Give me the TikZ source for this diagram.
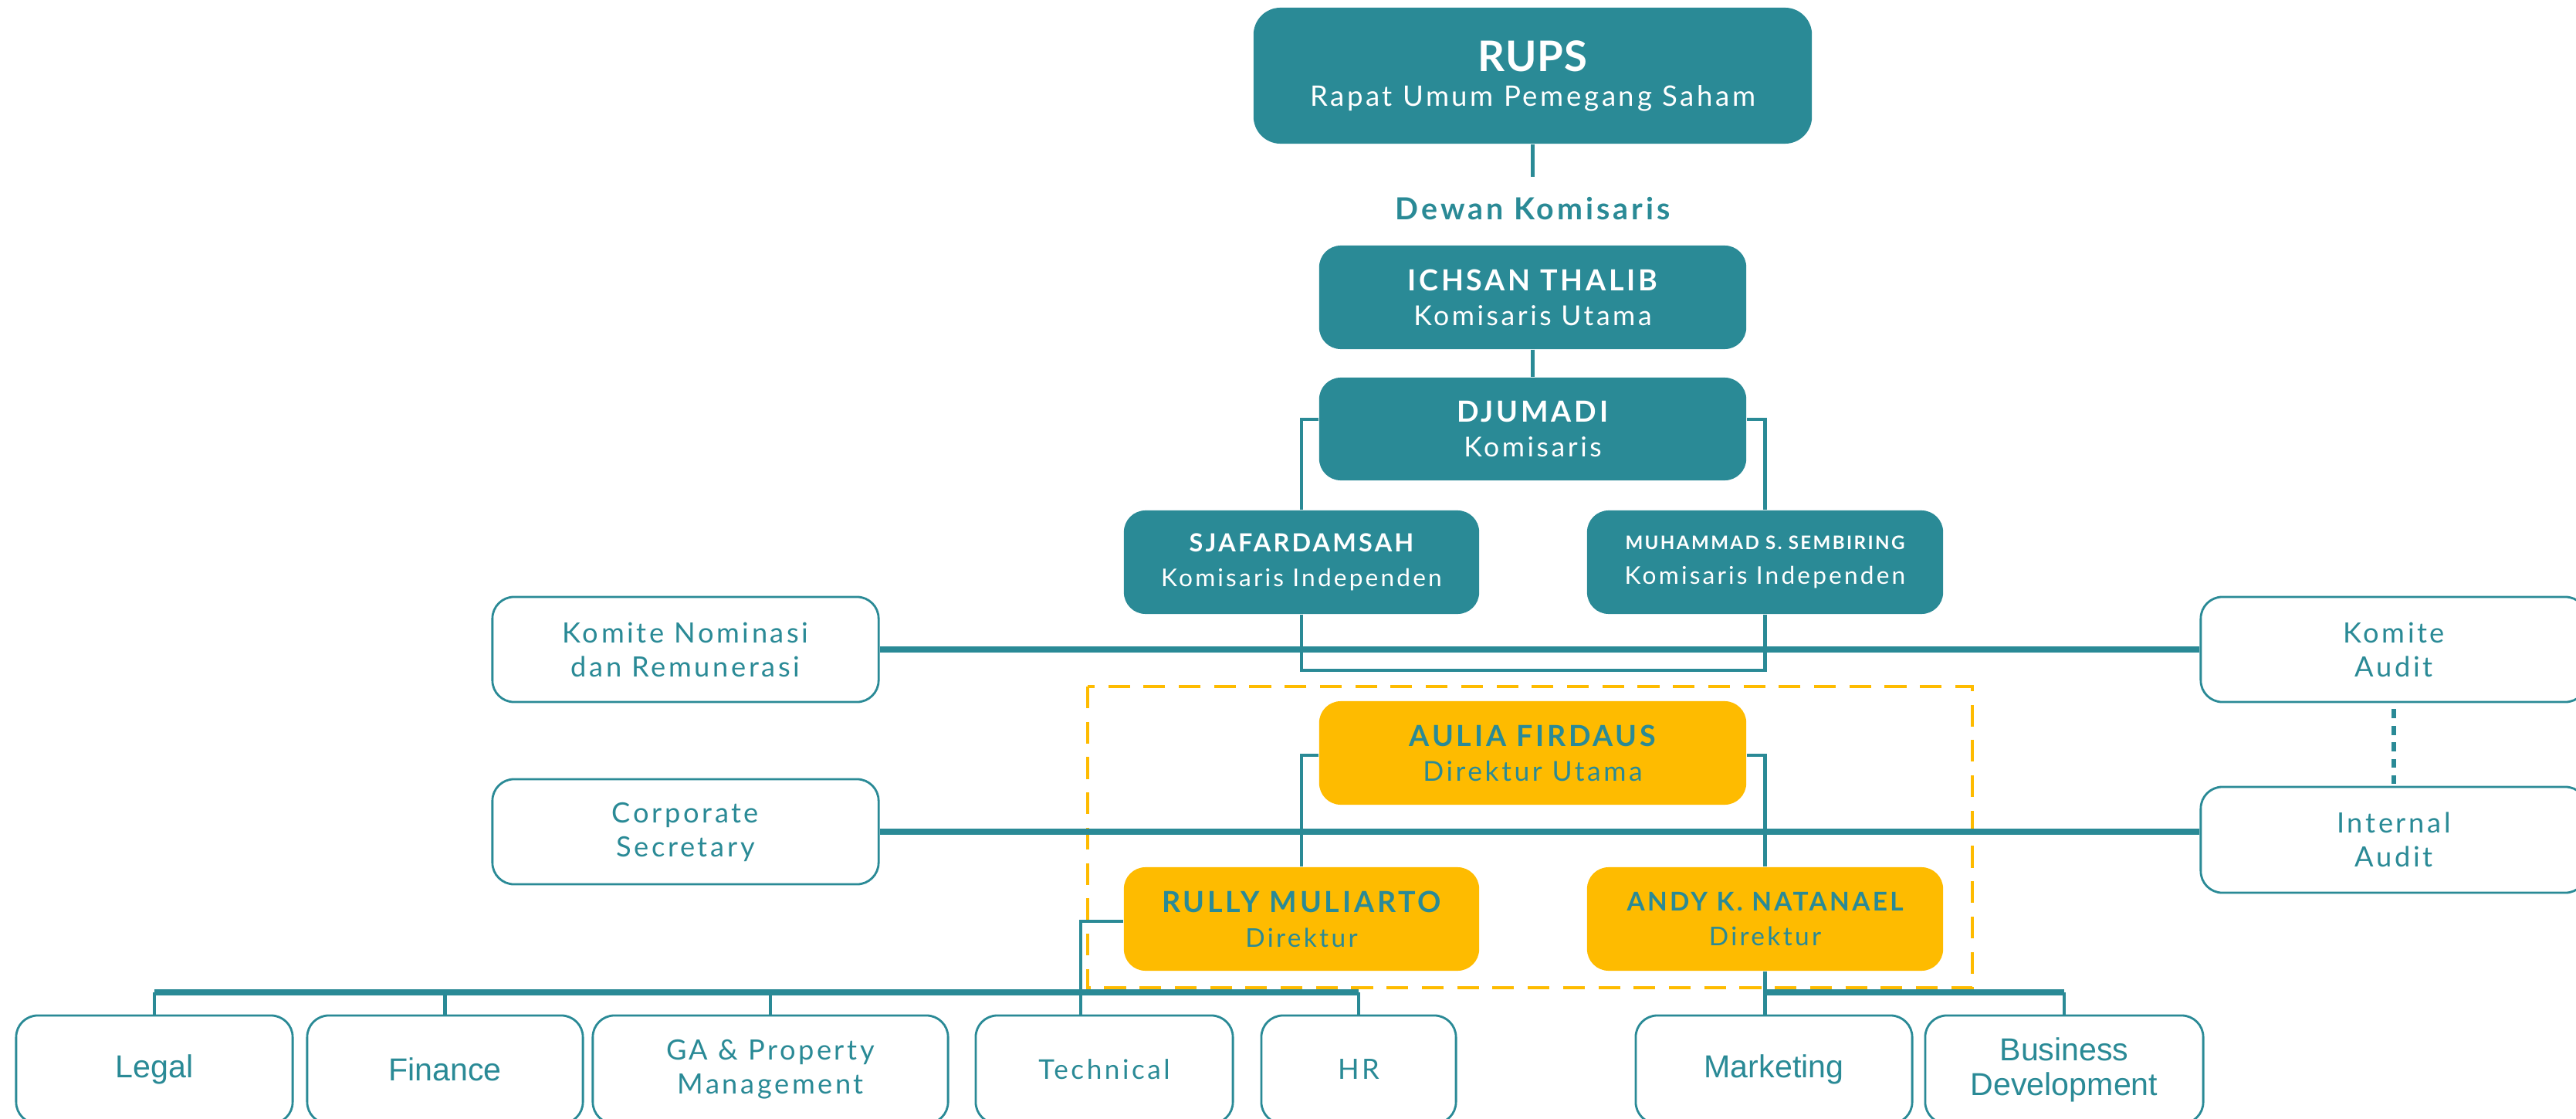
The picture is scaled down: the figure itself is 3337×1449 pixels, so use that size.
\documentclass[tikz,border=0pt]{standalone}
\usepackage{fontspec}
\setmainfont{Lato}[LetterSpace=10]
\newfontfamily\arialf{Liberation Sans}
\definecolor{tealc}{RGB}{42,138,150}
\definecolor{goldc}{RGB}{254,187,0}
\newcommand\twoline[4]{{\fontsize{#1}{12.8}\selectfont\bfseries #2}\\{\fontsize{#3}{12.8}\selectfont #4}}
\begin{document}
\begin{tikzpicture}[x=0.01cm,y=-0.01cm,
  fillbox/.style={rounded corners=0.28cm, fill=tealc, text=white, align=center, inner sep=0pt,
     font=\fontsize{9.5}{12.8}\selectfont},
  ybox/.style={fillbox, fill=goldc, text=tealc},
  wbox/.style={rounded corners=0.28cm, draw=tealc, line width=0.8pt, fill=white, text=tealc,
     align=center, inner sep=0pt, font=\fontsize{10.3}{12.5}\selectfont},
  bbox/.style={wbox, minimum height=1.40cm, font=\fontsize{10.3}{12.5}\selectfont},
  abox/.style={bbox, font=\arialf\fontsize{11.7}{12.8}\selectfont},
  conn/.style={draw=tealc, line width=1.2pt},
  bus/.style={draw=tealc, line width=2pt},
  ydash/.style={draw=goldc, line width=1.3pt, dash pattern=on 8pt off 5pt},
  tdash/.style={draw=tealc, line width=1.8pt, dash pattern=on 3.3pt off 2.8pt}]
\useasboundingbox (0,0) rectangle (3337,1449);
\clip (0,0) rectangle (3337,1449);

% Board
\node[fillbox, minimum width=7.23cm, minimum height=1.76cm, rounded corners=0.35cm] (rups) at (1985.5,98)
  {{\fontsize{15.5}{12.8}\selectfont\bfseries\addfontfeatures{LetterSpace=2}RUPS}\\{\fontsize{10.4}{12.8}\selectfont Rapat Umum Pemegang Saham}};
\coordinate (rupsend) at (1985.5,229);
\node[text=tealc, font=\fontsize{11.2}{12.8}\selectfont\bfseries] (dewan) at (1985.5,270) {Dewan Komisaris};
\node[fillbox, minimum width=5.53cm, minimum height=1.34cm] (ichsan) at (1985.5,385)
  {\twoline{10.7}{ICHSAN THALIB}{10.1}{Komisaris Utama}};
\node[fillbox, minimum width=5.53cm, minimum height=1.33cm] (djumadi) at (1985.5,555.5)
  {\twoline{10.7}{DJUMADI}{10.1}{Komisaris}};
\node[fillbox, minimum width=4.60cm, minimum height=1.34cm] (sjaf) at (1686,728)
  {\twoline{9.2}{SJAFARDAMSAH}{9.0}{Komisaris Independen}};
\node[fillbox, minimum width=4.61cm, minimum height=1.34cm] (muh) at (2286.5,728)
  {\twoline{6.85}{MUHAMMAD S. SEMBIRING}{9.0}{Komisaris Independen}};

% Committees
\node[wbox, minimum width=5.00cm, minimum height=1.36cm] (komnom) at (888,841)
  {Komite Nominasi\\dan Remunerasi};
\node[wbox, minimum width=5.00cm, minimum height=1.36cm] (komaud) at (3101,841)
  {Komite\\Audit};
\node[wbox, minimum width=5.00cm, minimum height=1.37cm] (intaud) at (3101,1087.5)
  {Internal\\Audit};
\node[wbox, minimum width=5.00cm, minimum height=1.36cm] (corsec) at (888,1077)
  {Corporate\\Secretary};

% Directors
\node[ybox, minimum width=5.53cm, minimum height=1.34cm] (aulia) at (1985.5,975)
  {\twoline{10.7}{AULIA FIRDAUS}{10.1}{Direktur Utama}};
\node[ybox, minimum width=4.60cm, minimum height=1.34cm] (rully) at (1686,1190)
  {\twoline{10.7}{RULLY MULIARTO}{9.5}{Direktur}};
\node[ybox, minimum width=4.61cm, minimum height=1.34cm] (andy) at (2286.5,1190)
  {\twoline{9.5}{ANDY K. NATANAEL}{9.5}{Direktur}};

% Departments
\node[abox, minimum width=3.58cm] (legal) at (200,1385) {Legal};
\node[abox, minimum width=3.57cm] (finance) at (576.5,1385) {Finance};
\node[bbox, minimum width=4.60cm] (ga) at (998,1385) {GA \& Property\\Management};
\node[bbox, minimum width=3.33cm, font=\fontsize{10.0}{12.5}\selectfont] (tech) at (1430.5,1385) {Technical};
\node[bbox, minimum width=2.52cm] (hr) at (1760,1385) {HR};
\node[abox, minimum width=3.58cm] (mkt) at (2298,1385) {Marketing};
\node[abox, minimum width=3.60cm] (bd) at (2674,1385) {Business\\Development};

% Dashed frame of the directors
\draw[ydash] (1409,889) rectangle (2555,1279);

% Connectors
\coordinate (djy) at (1985.5,543);
\coordinate (kby) at (1985.5,868);
\coordinate (auy) at (1985.5,978);
\coordinate (rturn) at (1400,1193);
\coordinate (busy) at (0,1285);
\draw[conn] (rups.south) -- (rupsend);
\draw[conn] (ichsan.south) -- (djumadi.north);
\draw[conn] (djumadi.west |- djy) -| (sjaf.north);
\draw[conn] (djumadi.east |- djy) -| (muh.north);
\draw[conn] (sjaf.south) |- (kby) -| (muh.south);
\draw[bus] (komnom.east) -- (komaud.west);
\draw[tdash] ([yshift=-0.08cm]komaud.south) -- ([yshift=0.03cm]intaud.north);
\draw[bus] (corsec.east) -- (corsec.east -| intaud.west);
\draw[conn] (aulia.west |- auy) -| (rully.north);
\draw[conn] (aulia.east |- auy) -| (andy.north);
\draw[conn] (rully.west |- rturn) -- (rturn) -- (rturn |- tech.north);
\draw[bus] (legal.north |- busy) -- (hr.north |- busy);
\draw[conn] (legal.north |- busy) -- (legal.north);
\draw[conn] (finance.north |- busy) -- (finance.north);
\draw[conn] (ga.north |- busy) -- (ga.north);
\draw[conn] (hr.north |- busy) -- (hr.north);
\draw[conn] (andy.south) -- (andy.south |- mkt.north);
\draw[bus] (andy.south |- busy) -- (bd.north |- busy);
\draw[conn] (bd.north |- busy) -- (bd.north);
\end{tikzpicture}
\end{document}
